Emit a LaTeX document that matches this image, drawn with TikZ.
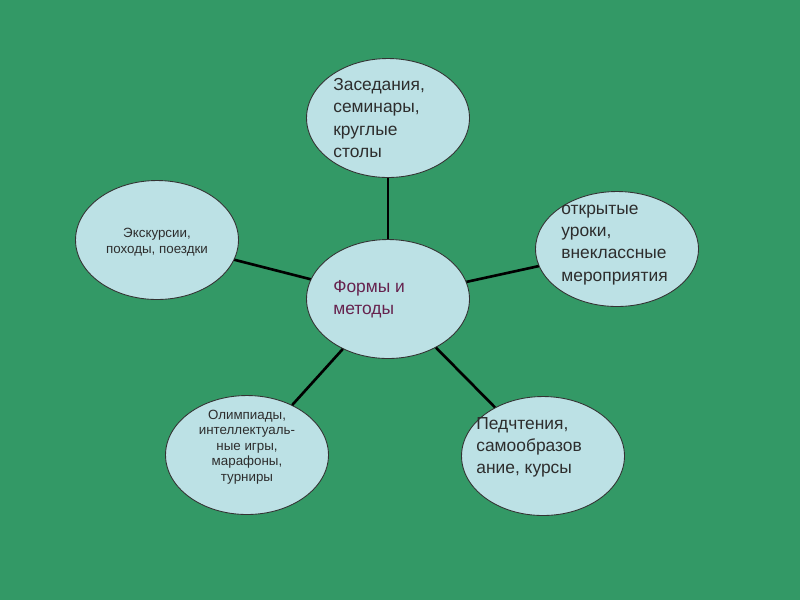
\documentclass[tikz,border=0pt]{standalone}
\usepackage{fontspec}
\setmainfont{Liberation Sans}
\usetikzlibrary{shapes.geometric}
\definecolor{bg}{RGB}{51,153,102}
\definecolor{ell}{RGB}{188,225,229}
\definecolor{txt}{RGB}{45,45,45}
\definecolor{ctr}{RGB}{102,34,78}
\begin{document}
\begin{tikzpicture}[x=0.02cm,y=-0.02cm,
  bubble/.style={ellipse,draw=black!80,line width=0.5pt,fill=ell,inner sep=0pt,minimum width=3.26cm,minimum height=2.38cm},
  big/.style={font=\fontsize{9.9}{12.6}\selectfont,text=txt,align=left,anchor=west,inner sep=0pt},
  small/.style={font=\fontsize{7.6}{8.8}\selectfont,text=txt,align=center,inner sep=0pt},
  link/.style={line width=1.5pt,black}]
\fill[bg] (0,0) rectangle (800,600);
\useasboundingbox (0,0) rectangle (800,600);
\node[bubble] (c) at (388,299) {};
\node[bubble] (t) at (388,118) {};
\node[bubble,minimum height=2.3cm] (r) at (617,249) {};
\node[bubble] (l) at (157,240) {};
\node[bubble] (bl) at (247,455) {};
\node[bubble] (br) at (543,456) {};
\draw[link] (c) -- (t);
\draw[link] (c) -- (r);
\draw[link] (c) -- (l);
\draw[link] (c) -- (bl);
\draw[link] (c) -- (br);
\node[big] (tt) at (333,118) {Заседания,\\семинары,\\круглые\\столы};
\node[big,text=ctr] (ct) at (333,299) {Формы и\\методы};
\node[big] (rt) at (561,245) {открытые\\уроки,\\внеклассные\\мероприятия};
\node[big] (brt) at (476,447) {Педчтения,\\самообразов\\ание, курсы};
\node[small] (lt) at (157,242) {Экскурсии,\\походы, поездки};
\node[small] (blt) at (247,447) {Олимпиады,\\интеллектуаль-\\ные игры,\\марафоны,\\турниры};
\end{tikzpicture}
\end{document}
